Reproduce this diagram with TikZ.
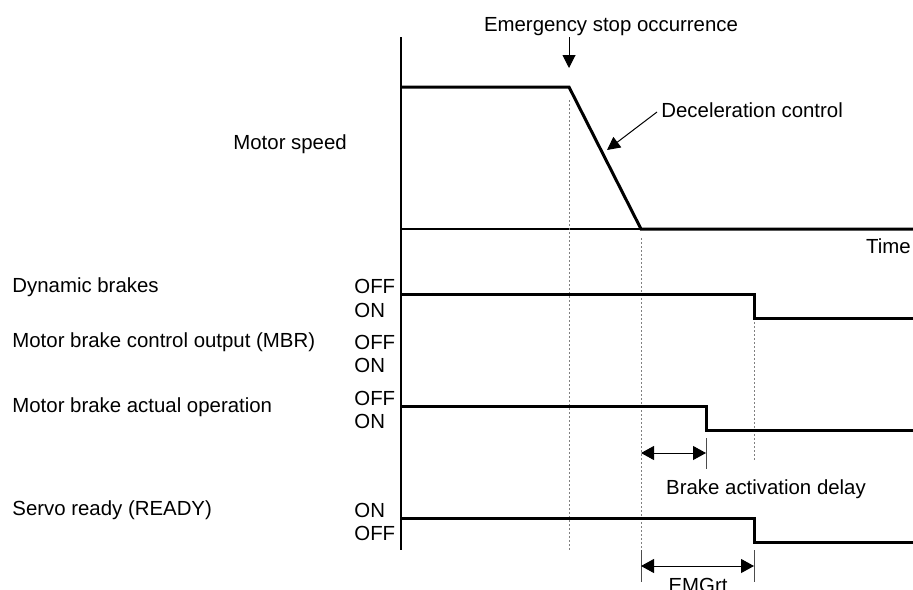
\documentclass[tikz,border=0pt]{standalone}
\usepackage{fontspec}
\setmainfont{Liberation Sans}
\usetikzlibrary{arrows.meta}
\tikzset{
  sig/.style={line width=1.5pt},
  guide/.style={gray, line width=0.4pt, dash pattern=on 1pt off 1pt},
  txt/.style={inner sep=0pt, anchor=base west, font=\fontsize{10.2pt}{12pt}\selectfont},
  pointer/.style={-{Triangle[length=6.5pt,width=6.5pt]}, line width=0.5pt},
  span/.style={{Triangle[length=6.5pt,width=7pt]}-{Triangle[length=6.5pt,width=7pt]}, line width=0.5pt},
  tick/.style={line width=0.5pt, black!70}
}
\begin{document}
\begin{tikzpicture}[x=0.5pt,y=-0.5pt]
	\useasboundingbox (0,0) rectangle (913,589);
	% axes
	\draw[line width=1pt] (401,37) -- (401,550);
	\draw[line width=0.8pt] (401,229) -- (913,229);
	\node[txt, anchor=base east] (time) at (911,253) {Time};

	% guides
	\draw[guide] (569,100) -- (569,550);
	\draw[guide] (641,238) -- (641,550);
	\draw[guide] (754,318) -- (754,462);

	% motor speed
	\draw[sig] (401,87) -- (569,87) -- (641,229) -- (913,229);
	\node[txt] (speed) at (233,149) {Motor speed};
	\node[txt, anchor=base] (emg) at (611,32) {Emergency stop occurrence};
	\coordinate (emgtop) at (569,37);
	\coordinate (emgtip) at (569,68);
	\draw[pointer] (emgtop) -- (emgtip);
	\node[txt] (decel) at (661,117) {Deceleration control};
	\coordinate (deceltip) at (607,150);
	\draw[pointer] (657,112) -- (deceltip);

	% signals
	\draw[sig] (401,294) -- (754,294) -- (754,318) -- (913,318);
	\draw[sig] (401,406) -- (706,406) -- (706,430) -- (913,430);
	\draw[sig] (401,518) -- (754,518) -- (754,542) -- (913,542);

	\node[txt] (db) at (12,292) {Dynamic brakes};
	\node[txt] (mbr) at (12,347) {Motor brake control output (MBR)};
	\node[txt] (act) at (12,412) {Motor brake actual operation};
	\node[txt] (rdy) at (12,515) {Servo ready (READY)};

	\node[txt] (dboff) at (354,293) {OFF};
	\node[txt] (dbon) at (354,317) {ON};
	\node[txt] (mbroff) at (354,349) {OFF};
	\node[txt] (mbron) at (354,372) {ON};
	\node[txt] (actoff) at (354,405) {OFF};
	\node[txt] (acton) at (354,428) {ON};
	\node[txt] (rdyon) at (354,517) {ON};
	\node[txt] (rdyoff) at (354,540) {OFF};

	% delays
	\draw[tick] (706,438) -- (706,469);
	\draw[span] (641,453) -- (706,453);
	\node[txt, anchor=base] (delay) at (766,494) {Brake activation delay};

	\draw[tick] (641,550) -- (641,582);
	\draw[tick] (754,550) -- (754,582);
	\draw[span] (641,566) -- (754,566);
	\node[txt, anchor=base] (emgrt) at (698,592) {EMGrt};
\end{tikzpicture}
\end{document}
